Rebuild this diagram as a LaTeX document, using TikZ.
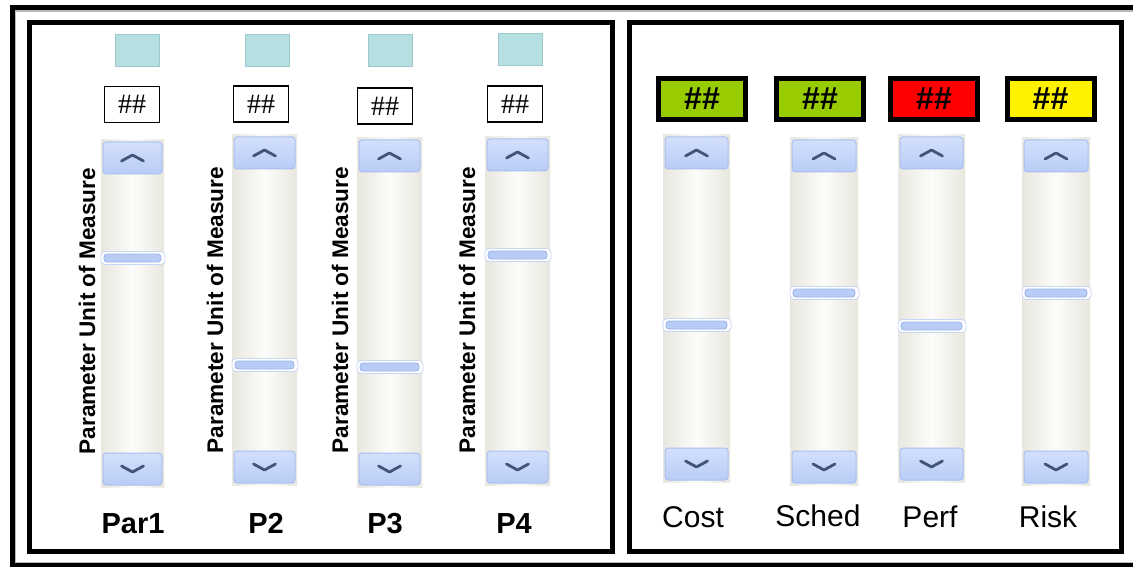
\documentclass[tikz,border=0pt]{standalone}
\usepackage{fontspec}
\setmainfont{Liberation Sans}
\newfontfamily\hashserif{Liberation Serif}

\definecolor{trackside}{HTML}{E8E7DF}
\definecolor{trackmid}{HTML}{FCFCFA}
\definecolor{btntop}{HTML}{D3E0FC}
\definecolor{btnbot}{HTML}{B9CCF6}
\definecolor{btnedge}{HTML}{A8BFF0}
\definecolor{chevron}{HTML}{425578}
\definecolor{thumbfill}{HTML}{B8CCF6}
\definecolor{thumbedge}{HTML}{9AB4EB}
\definecolor{swatch}{HTML}{B6DFE2}
\definecolor{swatchedge}{HTML}{9CC8CC}
\definecolor{okgreen}{HTML}{99CC00}

\tikzset{
  panel/.style={draw=black, line width=5pt},
  track/.style={left color=trackside, right color=trackside, middle color=trackmid},
  button/.style={rounded corners=3pt, draw=btnedge, line width=1pt, top color=btntop, bottom color=btnbot},
  chev/.style={draw=chevron, line width=2.8pt, line cap=round, line join=round},
  thumbhalo/.style={rounded corners=4pt, draw=thumbedge!55, line width=0.8pt, fill=white},
  thumb/.style={rounded corners=3pt, draw=thumbedge, line width=0.8pt, fill=thumbfill},
  swatchbox/.style={draw=swatchedge, line width=0.8pt, fill=swatch, minimum width=44pt, minimum height=32pt, inner sep=0pt},
  valbox/.style={draw=black, line width=1.3pt, fill=white, minimum width=55pt, minimum height=36pt, inner sep=0pt, font=\hashserif\fontsize{28}{30}\selectfont},
  statusbox/.style={draw=black, line width=5pt, minimum width=87pt, minimum height=41pt, inner sep=0pt, font=\bfseries\fontsize{32}{34}\selectfont},
  unitlabel/.style={rotate=90, inner sep=0pt, font=\bfseries\fontsize{22.6}{24}\selectfont},
  parlabel/.style={anchor=base, inner sep=0pt, font=\bfseries\fontsize{29}{32}\selectfont},
  metriclabel/.style={anchor=base, inner sep=0pt, font=\fontsize{30}{32}\selectfont},
}

% scroll bar: name, left x, right x, top y, bottom y, thumb y
\newcommand\uislider[6]{%
  \pgfmathsetmacro\slcx{(#2+#3)/2}
  \fill[track] (#2,#4) rectangle (#3,#5);
  \draw[button] (#2+2,#4+2) rectangle (#3-2,#4+34);
  \draw[chev] (\slcx-11,#4+21) -- (\slcx,#4+15) -- (\slcx+11,#4+21);
  \draw[button] (#2+2,#5-34) rectangle (#3-2,#5-2);
  \draw[chev] (\slcx-11,#5-21) -- (\slcx,#5-15) -- (\slcx+11,#5-21);
  \draw[thumbhalo] (#2,#6-6.5) rectangle (#3+1,#6+6.5);
  \draw[thumb] (#2+3,#6-4) rectangle (#3-3,#6+4);
  \coordinate (#1) at (\slcx,#6);
}

\begin{document}
\begin{tikzpicture}[x=1pt, y=-1pt]
  \useasboundingbox (0,0) rectangle (1133,567);
  \fill[white] (0,0) rectangle (1133,567);

  % outer frame
  \draw[line width=5pt] (12,7.5) rectangle (1150,565.5);
  \draw[gray!55, line width=1.4pt] (15.6,11) rectangle (1150,562.2);

  % the two panels
  \draw[panel] (29.5,22.5) rectangle (612.5,551);
  \draw[panel] (629.5,22.5) rectangle (1121.5,551);

  % ---- parameter panel ----
  \node[swatchbox] (sw1) at (137.5,50.5) {};
  \node[swatchbox] (sw2) at (267,50) {};
  \node[swatchbox] (sw3) at (390,50.5) {};
  \node[swatchbox] (sw4) at (520,49) {};

  \node[valbox] (v1) at (132,104.5) {\#\#};
  \node[valbox] (v2) at (261,104) {\#\#};
  \node[valbox] (v3) at (385,106) {\#\#};
  \node[valbox] (v4) at (515,104) {\#\#};

  \uislider{s1}{101}{164}{140}{487}{258}
  \uislider{s2}{232}{297}{135}{485}{365}
  \uislider{s3}{357}{422}{138}{487}{367}
  \uislider{s4}{485}{550}{137}{485}{255}

  \node[unitlabel] (u1) at (87,311) {Parameter Unit of Measure};
  \node[unitlabel] (u2) at (215,310) {Parameter Unit of Measure};
  \node[unitlabel] (u3) at (340,310) {Parameter Unit of Measure};
  \node[unitlabel] (u4) at (467,310) {Parameter Unit of Measure};

  \node[parlabel] (p1) at (133,533) {Par1};
  \node[parlabel] (p2) at (266,533) {P2};
  \node[parlabel] (p3) at (385,533) {P3};
  \node[parlabel] (p4) at (514,533) {P4};

  % ---- metric panel ----
  \node[statusbox, fill=okgreen] (c1) at (702,99) {\#\#};
  \node[statusbox, fill=okgreen] (c2) at (820,99) {\#\#};
  \node[statusbox, fill=red] (c3) at (934,99) {\#\#};
  \node[statusbox, fill=yellow] (c4) at (1050.5,99) {\#\#};

  \uislider{m1}{663}{730}{135}{482}{325}
  \uislider{m2}{790}{858}{138}{485}{293}
  \uislider{m3}{898}{965}{135}{482}{326}
  \uislider{m4}{1022}{1090}{138}{485}{293}

  \node[metriclabel] (l1) at (693,527) {Cost};
  \node[metriclabel] (l2) at (818,526) {Sched};
  \node[metriclabel] (l3) at (930,527) {Perf};
  \node[metriclabel] (l4) at (1048,527) {Risk};
\end{tikzpicture}
\end{document}
